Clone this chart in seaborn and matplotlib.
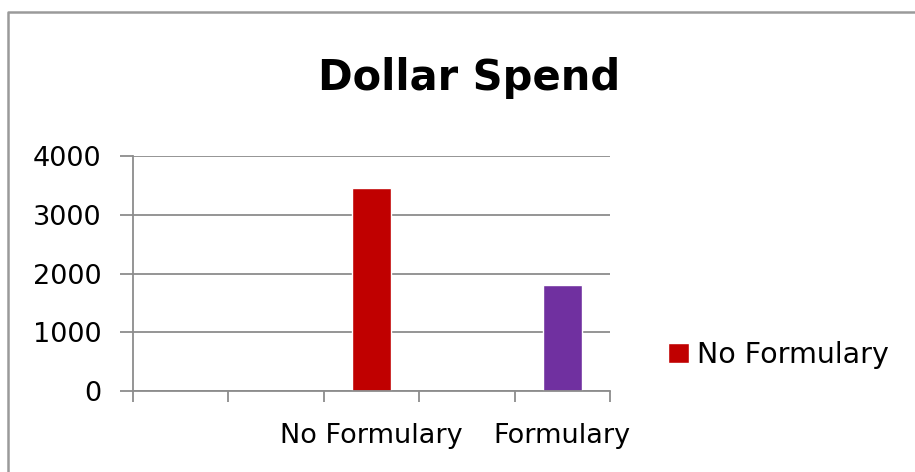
import numpy as np
import pandas as pd
import seaborn as sns
import matplotlib.pyplot as plt
from matplotlib.lines import Line2D

# chart data
slots = ['s1', 's2', 'No Formulary', 's4', 'Formulary']
slot_labels = ['', '', 'No Formulary', '', 'Formulary']
spend = [np.nan, np.nan, 3450, np.nan, 1800]
bar_colors = ['#C00000', '#C00000', '#C00000', '#7030A0', '#7030A0']
y_ticks = [0, 1000, 2000, 3000, 4000]

df = pd.DataFrame({'slot': slots, 'spend': spend})

sns.set_style('white')
plt.rcParams['font.family'] = ['DejaVu Sans']
plt.rcParams['text.color'] = 'black'
plt.rcParams['xtick.labelcolor'] = 'black'
plt.rcParams['ytick.labelcolor'] = 'black'

fig = plt.figure(figsize=(9.15, 4.72), dpi=100)
ax = fig.add_axes([133 / 915, 81 / 472, 477 / 915, 235 / 472])

sns.barplot(data=df, x='slot', y='spend', hue='slot', order=slots,
            palette=dict(zip(slots, bar_colors)), width=0.41,
            saturation=1, legend=False, ax=ax)

grey = '#8c8c8c'
ax.set_xlim(-0.5, len(slots) - 0.5)
ax.set_ylim(0, 4000)
ax.set_yticks(y_ticks)
ax.set_yticklabels([str(v) for v in y_ticks], fontsize=19.5, color='black')
ax.yaxis.grid(True, color=grey, linewidth=1.3)
ax.set_axisbelow(True)

# ticks on slot boundaries, labels in the middle
ax.set_xticks(np.arange(-0.5, len(slots), 1.0))
ax.set_xticklabels([])
ax.set_xticks(np.arange(len(slots)), minor=True)
ax.set_xticklabels(slot_labels, minor=True, fontsize=19.5, color='black')
ax.tick_params(axis='x', which='major', direction='out', length=8, width=1.3,
               color=grey, bottom=True)
ax.tick_params(axis='x', which='minor', length=0, pad=23)
ax.tick_params(axis='y', direction='out', length=9.5, width=1.3, color=grey,
               left=True, pad=13)

for side in ['top', 'right']:
    ax.spines[side].set_visible(False)
for side in ['left', 'bottom']:
    ax.spines[side].set_color(grey)
    ax.spines[side].set_linewidth(1.3)
ax.set_xlabel('')
ax.set_ylabel('')

# only the first series shows in the legend
red_bar = [p for p in ax.patches if p.get_height() == 3450][0]
fig.legend([red_bar], ['No Formulary'], loc='center left',
           bbox_to_anchor=(0.702, 0.248), frameon=False, fontsize=20.5,
           handlelength=0.74, handleheight=0.74, handletextpad=0.28)

fig.text(0.5126, 0.835, 'Dollar Spend', ha='center', va='center',
         fontsize=30, fontweight='bold', color='black')

# chart area border (cut off on right and bottom)
fig.add_artist(Line2D([7.5 / 915, 7.5 / 915, 1.0], [0.0, 1 - 11.5 / 472, 1 - 11.5 / 472],
                      transform=fig.transFigure, color='#9a9a9a', linewidth=1.8))

plt.savefig('out.png', dpi=100)
